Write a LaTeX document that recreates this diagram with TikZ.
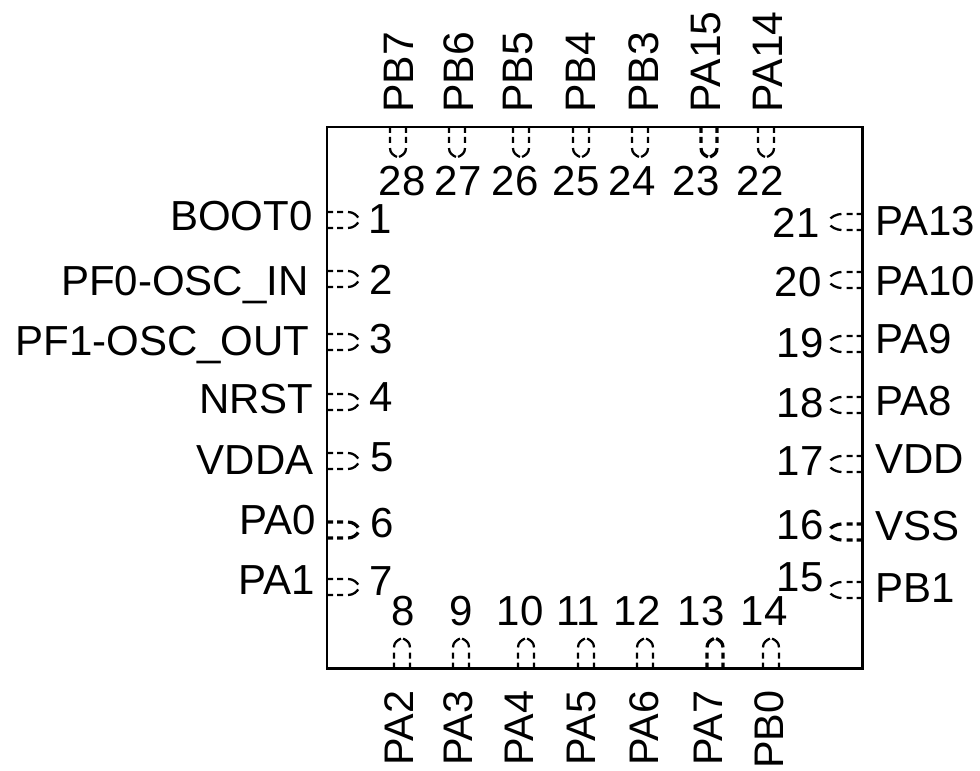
\documentclass[tikz,border=0pt]{standalone}
\usepackage{fontspec}
\setmainfont{Liberation Sans}
\tikzset{every picture/.style={line width=0.75pt}}
\tikzset{
	pinlabel/.style={font=\fontsize{31.5}{32}\selectfont,inner sep=0pt,text depth=0pt,text height=22.5pt},
	sidelabel/.style={pinlabel,font=\fontsize{32}{32}\selectfont,rotate=90},
	lowlabel/.style={pinlabel,font=\fontsize{31}{32}\selectfont,rotate=90},
	pinshape/.style={line width=1.7pt,dash pattern={on 4.5pt off 3pt on 4.5pt off 3.8pt on 9pt off 30pt}},
	pinbold/.style={pinshape,line width=2.4pt}
}
% pin outline, pointing into the chip along +x from the edge
\newcommand{\pinoutline}[5]{
	\draw [#4,shift={(#1,#2)},rotate=#3] (0,-8) -- (21,-8) .. controls (26,-8) and (#5-2,-5) .. (#5,-1) ;
	\draw [#4,shift={(#1,#2)},rotate=#3] (0,8) -- (21,8) .. controls (26,8) and (#5-2,5) .. (#5,1) ;
}

\begin{document}
\begin{tikzpicture}[x=0.75pt,y=0.75pt,yscale=-1]
	\useasboundingbox (0,0) rectangle (980,770);

	%Shape: Rectangle
	\draw [line width=2pt] (327,127) rectangle (862.5,668.5) ;

	% Left pins
	\foreach \n/\py/\nx/\ny/\lx/\ly/\name/\sty in {1/220/380/218/313/215/BOOT0/pinshape,2/279/381/279/309/280/PF0-OSC\_IN/pinshape,3/342/381/338/310/340/PF1-OSC\_OUT/pinshape,4/402/381/396/314/398/NRST/pinshape,5/461/382/456/314/459/VDDA/pinshape,6/530/382/522/316/519/PA0/pinbold,7/587/381/580/315/579/PA1/pinshape}{
		\pinoutline{327}{\py}{0}{\sty}{32}
		\node [pinlabel] (num\n) at (\nx,\ny) {\n};
		\node [pinlabel,anchor=east] (lab\n) at (\lx,\ly) {\name};
	}

	% Right pins
	\foreach \n/\py/\nx/\ny/\ly/\name/\sty in {21/222/796/222/220/PA13/pinshape,20/280/798/281/280/PA10/pinshape,19/344/800/342/338/PA9/pinshape,18/405/800/402/400/PA8/pinshape,17/464/800/460/458/VDD/pinshape,16/532/800/524/525/VSS/pinbold,15/590/800/576/587/PB1/pinshape}{
		\pinoutline{862.5}{\py}{180}{\sty}{34}
		\node [pinlabel] (num\n) at (\nx,\ny) {\n};
		\node [pinlabel,anchor=west] (lab\n) at (875,\ly) {\name};
	}

	% Top pins
	\foreach \n/\px/\nx/\lx/\name/\sty in {28/398/402/398/PB7/pinshape,27/457/458/458/PB6/pinshape,26/521/515/517/PB5/pinshape,25/581/576/580/PB4/pinshape,24/640/632/643/PB3/pinshape,23/709/696/705/PA15/pinbold,22/766/760/767/PA14/pinshape}{
		\pinoutline{\px}{127}{90}{\sty}{30}
		\node [pinlabel] (num\n) at (\nx,180) {\n};
		\node [sidelabel,anchor=west] (lab\n) at (\lx,113) {\name};
	}

	% Bottom pins
	\foreach \n/\px/\nx/\lx/\name/\sty in {8/402/403/398/PA2/pinshape,9/461/461/457/PA3/pinshape,10/526/520/518/PA4/pinshape,11/586/578/580/PA5/pinshape,12/645/637/643/PA6/pinshape,13/715/701/707/PA7/pinbold,14/771/764/768/PB0/pinshape}{
		\pinoutline{\px}{668.5}{-90}{\sty}{30}
		\node [pinlabel] (num\n) at (\nx,610) {\n};
		\node [lowlabel,anchor=east] (lab\n) at (\lx,690) {\name};
	}
\end{tikzpicture}
\end{document}
